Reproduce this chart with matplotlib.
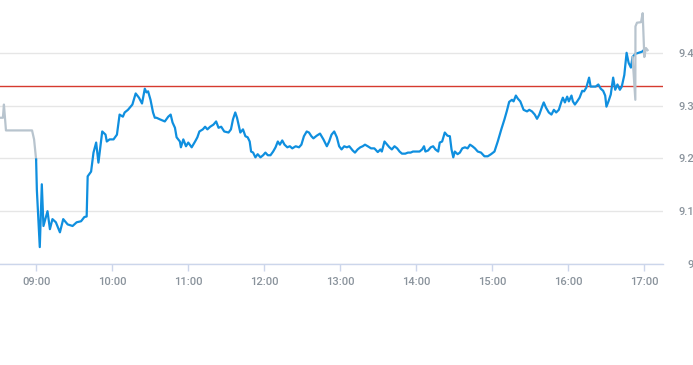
import numpy as np
import matplotlib.pyplot as plt

# minutes after 09:00, price
pre_minutes = [-30, -26.2, -25.4, -23.8, -3.2, -1.6, 0]
pre_prices = [9.277, 9.277, 9.302, 9.253, 9.253, 9.236, 9.198]

day_minutes = [
    0, 0.6, 2.9, 4.5, 5.8, 7.7, 9.0, 10.9, 12.9, 15.6, 18.8, 21.4, 24.9, 28.8, 32.0,
    35.5, 38.1, 39.9, 40.7, 43.4, 45.3, 47.4, 49.2, 52.2, 54.8, 55.8, 58.0, 61.1,
    63.8, 65.9, 68.5, 69.9, 72.5, 76.0, 78.6, 81.2, 83.6, 85.8, 87.1, 88.4, 90.3,
    92.3, 93.7, 95.0, 97.7, 101.6, 104.3, 106.2, 107.7, 109.6, 110.9, 113.5, 114.3,
    116.2, 118.3, 120.1, 122.8, 125.5, 127.3, 128.9, 131.6, 133.4, 135.2, 137.4,
    140.0, 142.1, 144.0, 146.1, 148.5, 151.9, 153.8, 155.4, 157.2, 158.6, 159.8,
    161.2, 163.3, 165.2, 167.0, 168.6, 169.7, 171.3, 173.1, 174.9, 177.1, 179.2,
    181.0, 182.9, 185.0, 187.1, 189.0, 190.8, 192.4, 194.3, 196.1, 198.3, 200.3,
    202.2, 204.9, 207.5, 209.4, 211.4, 213.6, 215.4, 217.3, 218.9, 221.5, 224.1,
    226.8, 229.5, 231.3, 233.2, 235.3, 237.4, 239.2, 241.1, 243.2, 245.3, 247.2,
    249.9, 251.7, 253.8, 255.9, 257.8, 259.6, 261.8, 264.4, 267.0, 269.7, 271.8,
    272.9, 275.0, 277.1, 278.9, 280.8, 282.9, 285.0, 286.9, 288.8, 291.4, 293.5,
    295.6, 297.5, 300.1, 302.7, 304.7, 306.2, 307.3, 309.4, 311.5, 313.4, 315.2,
    317.4, 318.6, 320.5, 322.6, 324.7, 326.6, 327.9, 329.3, 330.5, 332.7, 334.5,
    336.4, 338.5, 340.6, 342.5, 344.4, 346.4, 348.6, 351.2, 353.9, 356.5, 359.1,
    361.8, 364.4, 367.2, 369.7, 371.6, 373.4, 375.6, 376.9, 378.7, 380.3, 382.2,
    384.8, 387.5, 389.3, 391.4, 393.6, 395.4, 397.2, 399.4, 400.7, 402.5, 404.7,
    406.8, 408.7, 410.5, 412.6, 414.7, 415.8, 417.4, 419.2, 420.5, 422.6, 423.7,
    425.3, 427.1, 429.0, 431.1, 432.5, 434.3, 436.5, 437.7, 439.6, 441.7, 443.8,
    445.7, 447.6, 449.2, 450.2, 451.8, 453.6, 455.5, 457.1, 458.9, 460.8, 462.3,
    464.3, 466.1, 467.7, 469.5, 470.8, 473.0, 475.6, 478.2, 480.1,
]
day_prices = [
    9.198, 9.14, 9.032, 9.151, 9.072, 9.089, 9.10, 9.066, 9.085, 9.079, 9.06, 9.085,
    9.075, 9.072, 9.079, 9.081, 9.089, 9.09, 9.166, 9.175, 9.211, 9.23, 9.192, 9.251,
    9.245, 9.232, 9.236, 9.236, 9.245, 9.283, 9.279, 9.287, 9.292, 9.302, 9.323,
    9.315, 9.304, 9.332, 9.325, 9.327, 9.311, 9.287, 9.277, 9.277, 9.274, 9.27,
    9.279, 9.283, 9.268, 9.258, 9.24, 9.232, 9.221, 9.236, 9.223, 9.23, 9.221, 9.232,
    9.24, 9.251, 9.255, 9.26, 9.255, 9.26, 9.264, 9.27, 9.258, 9.26, 9.251, 9.249,
    9.255, 9.274, 9.287, 9.277, 9.264, 9.249, 9.255, 9.242, 9.24, 9.232, 9.213,
    9.211, 9.202, 9.208, 9.202, 9.206, 9.211, 9.206, 9.206, 9.213, 9.221, 9.232,
    9.226, 9.234, 9.226, 9.221, 9.223, 9.219, 9.223, 9.221, 9.226, 9.242, 9.251,
    9.249, 9.242, 9.238, 9.243, 9.247, 9.236, 9.223, 9.232, 9.245, 9.251, 9.24,
    9.223, 9.217, 9.223, 9.221, 9.223, 9.215, 9.211, 9.217, 9.221, 9.223, 9.226,
    9.223, 9.219, 9.219, 9.212, 9.217, 9.213, 9.232, 9.226, 9.221, 9.217, 9.223,
    9.219, 9.213, 9.209, 9.209, 9.211, 9.211, 9.213, 9.213, 9.213, 9.217, 9.223,
    9.213, 9.215, 9.221, 9.223, 9.217, 9.213, 9.23, 9.232, 9.249, 9.243, 9.242,
    9.217, 9.202, 9.213, 9.208, 9.211, 9.219, 9.221, 9.219, 9.226, 9.223, 9.219,
    9.213, 9.211, 9.204, 9.204, 9.208, 9.213, 9.232, 9.255, 9.274, 9.29, 9.307,
    9.311, 9.308, 9.319, 9.313, 9.308, 9.292, 9.289, 9.292, 9.289, 9.283, 9.275,
    9.283, 9.298, 9.306, 9.296, 9.287, 9.283, 9.292, 9.287, 9.292, 9.308, 9.315,
    9.306, 9.317, 9.308, 9.319, 9.308, 9.302, 9.308, 9.315, 9.328, 9.327, 9.334,
    9.353, 9.336, 9.336, 9.336, 9.34, 9.332, 9.328, 9.319, 9.298, 9.308, 9.321,
    9.353, 9.33, 9.34, 9.33, 9.336, 9.358, 9.40, 9.381, 9.372, 9.392, 9.398, 9.40,
    9.402, 9.406,
]

post_minutes = [470.8, 473.0, 473.1, 474.3, 477.5, 478.8, 480.1, 481.4, 482.7]
post_prices = [9.392, 9.311, 9.45, 9.457, 9.458, 9.475, 9.392, 9.409, 9.405]

prev_close = 9.338

tick_minutes = [0, 60, 120, 180, 240, 300, 360, 420, 480]
tick_labels = ["09:00", "10:00", "11:00", "12:00", "13:00", "14:00", "15:00", "16:00", "17:00"]
y_ticks = [9.0, 9.1, 9.2, 9.3, 9.4]
y_labels = ["9", "9.1", "9.2", "9.3", "9.4"]

plt.rcParams["font.family"] = ["Roboto", "DejaVu Sans"]

fig = plt.figure(figsize=(6.93, 3.65), dpi=100)
ax = fig.add_axes([0, 0.2767, 0.957, 0.7233])

ax.plot(pre_minutes, pre_prices, color="#b8c4ce", linewidth=1.6, zorder=3)
ax.plot(day_minutes, day_prices, color="#0f8fdf", linewidth=1.6, zorder=4)
ax.plot(post_minutes, post_prices, color="#b8c4ce", linewidth=1.6, zorder=5)
ax.axhline(prev_close, color="#d63a2f", linewidth=1.0, zorder=2)

ax.set_xlim(-28.5, 495)
ax.set_ylim(9.0, 9.5)

ax.set_xticks(tick_minutes)
ax.set_xticklabels(tick_labels)
ax.set_yticks(y_ticks)
ax.set_yticklabels(y_labels)

ax.yaxis.tick_right()
ax.grid(axis="y", color="#e6e6e6", linewidth=1.0, zorder=0)
ax.tick_params(axis="y", length=0, pad=22, labelsize=8, labelcolor="#8a939c")
for lbl in ax.get_yticklabels():
    lbl.set_horizontalalignment("right")
ax.tick_params(axis="x", length=5, width=1, color="#ccd6eb", pad=4, labelsize=8, labelcolor="#8a939c")
for lbl in ax.get_xticklabels() + ax.get_yticklabels():
    lbl.set_fontweight("medium")

for side in ["top", "left", "right"]:
    ax.spines[side].set_visible(False)
ax.spines["bottom"].set_color("#ccd6eb")
ax.spines["bottom"].set_linewidth(1.0)

fig.savefig("out.png", dpi=100)
